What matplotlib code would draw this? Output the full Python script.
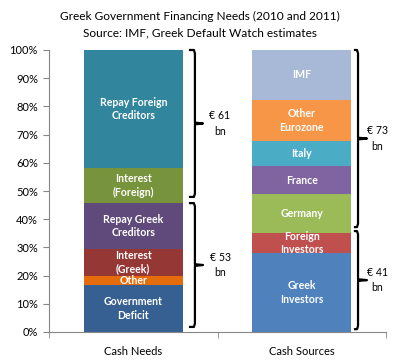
import matplotlib
matplotlib.use("Agg")
import matplotlib.pyplot as plt
import numpy as np

plt.rcParams['font.family'] = ['Lato', 'DejaVu Sans']

categories = ["Cash Needs", "Cash Sources"]

needs_labels = ["Government\nDeficit", "Other", "Interest\n(Greek)",
                "Repay Greek\nCreditors", "Interest\n(Foreign)", "Repay Foreign\nCreditors"]
needs_values = [16.7, 3.2, 9.5, 16.3, 12.5, 41.8]
needs_colors = ["#376092", "#E46C0A", "#953735", "#604A7B", "#77933C", "#31859C"]

sources_labels = ["Greek\nInvestors", "Foreign\nInvestors", "Germany", "France",
                  "Italy", "Other\nEurozone", "IMF"]
sources_values = [28.1, 7.1, 13.7, 10.0, 8.8, 14.6, 17.7]
sources_colors = ["#4F81BD", "#C0504D", "#9BBB59", "#8064A2", "#4BACC6", "#F79646", "#A7B9D7"]

needs_brace_labels = ["€ 53\nbn", "€ 61\nbn"]
sources_brace_labels = ["€ 41\nbn", "€ 73\nbn"]

yticks = np.arange(0, 101, 10)
ytick_labels = [f"{v}%" for v in yticks]

fig = plt.figure(figsize=(4.0, 3.61), dpi=100)
ax = fig.add_axes([49/400, 1-332/361, (386-49)/400, (332-50)/361])

width = 0.59
for xi, (labels, vals, cols) in enumerate([(needs_labels, needs_values, needs_colors),
                                           (sources_labels, sources_values, sources_colors)]):
    bottom = 0.0
    for lab, v, c in zip(labels, vals, cols):
        ax.bar(xi, v, width=width, bottom=bottom, color=c, edgecolor='none')
        ax.text(xi, bottom + v / 2, lab, ha='center', va='center', color='white',
                fontsize=7.6, fontweight='bold', linespacing=1.25)
        bottom += v

ax.set_xlim(-0.5, 1.5)
ax.set_ylim(0, 100)
ax.set_yticks(yticks)
ax.set_yticklabels(ytick_labels)
ax.set_xticks([0, 1])
ax.set_xticklabels(categories)
ax.set_xticks([-0.5, 0.5, 1.5], minor=True)
ax.tick_params(axis='x', which='major', length=0, pad=10, labelsize=8, colors='#000000')
ax.tick_params(axis='x', which='minor', length=4, color='#868686', direction='out')
ax.tick_params(axis='y', length=4, color='#868686', labelsize=8, pad=4)
for s in ['top', 'right']:
    ax.spines[s].set_visible(False)
for s in ['left', 'bottom']:
    ax.spines[s].set_color('#868686')
    ax.spines[s].set_linewidth(0.8)


def brace(x0, x1, x2, lo, hi, label, tx):
    mid = (lo + hi) / 2
    r = 1.2
    xs = [x0, x1 - 0.006, x1, x1, x2, x1, x1, x1 - 0.006, x0]
    ys = [hi, hi, hi - r, mid + 0.3, mid, mid - 0.3, lo + r, lo, lo]
    ax.plot(xs, ys, color='black', lw=1.6, clip_on=False, solid_joinstyle='round')
    ax.text(tx, mid, label, ha='center', va='center', fontsize=7.6, linespacing=1.5,
            clip_on=False)


# left braces
brace(0.337, 0.366, 0.414, 1.8, 45.7, needs_brace_labels[0], 0.515)
brace(0.337, 0.366, 0.414, 47.9, 100, needs_brace_labels[1], 0.515)
# right braces
brace(1.316, 1.334, 1.387, 1.0, 35.8, sources_brace_labels[0], 1.45)
brace(1.316, 1.334, 1.387, 37.2, 100, sources_brace_labels[1], 1.45)

fig.text(0.5, 1 - 16/361, "Greek Government Financing Needs (2010 and 2011)",
         ha='center', va='center', fontsize=8.6)
fig.text(0.5, 1 - 33/361, "Source: IMF, Greek Default Watch estimates",
         ha='center', va='center', fontsize=8.6)

fig.savefig("out.png", dpi=100)
